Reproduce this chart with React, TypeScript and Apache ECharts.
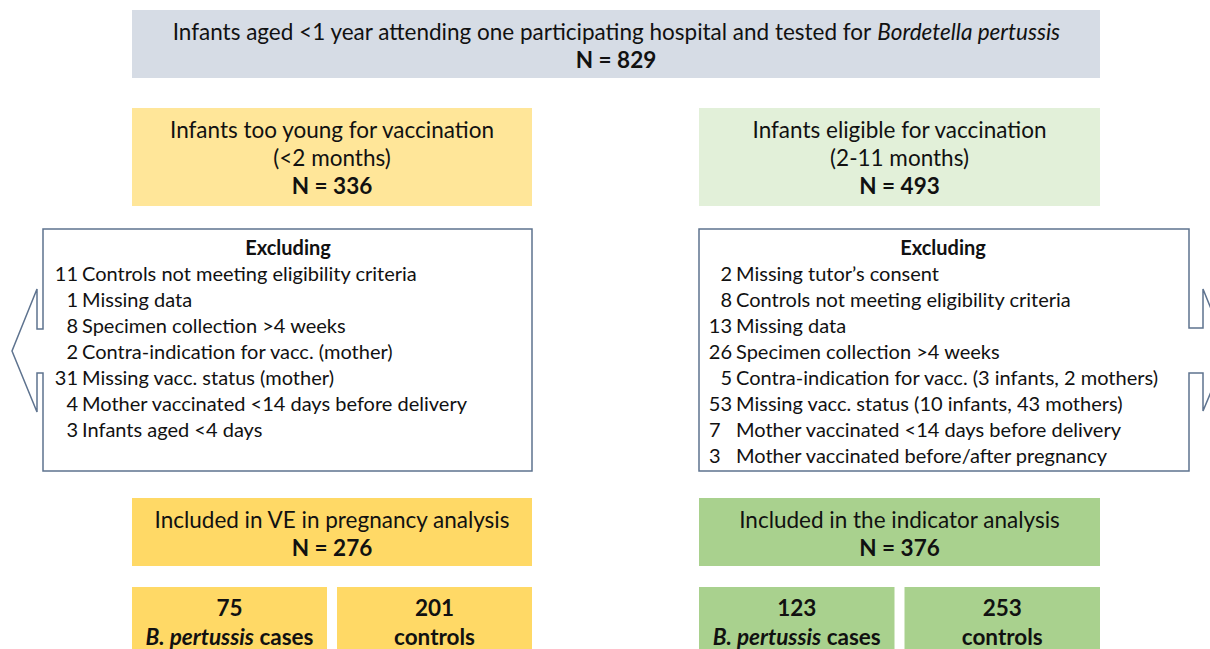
import React, { useEffect, useRef } from "react";
import * as echarts from "echarts";

// ---- data ----
const topTitle = "Infants aged <1 year attending one participating hospital and tested for ";
const topItalic = "Bordetella pertussis";
const totalN = 829;

const groupTitles = ["Infants too young for vaccination", "Infants eligible for vaccination"];
const groupRanges = ["(<2 months)", "(2-11 months)"];
const groupN = [336, 493];

const exclHeader = "Excluding";
const leftExclCounts = [11, 1, 8, 2, 31, 4, 3];
const leftExclLabels = [
  "Controls not meeting eligibility criteria",
  "Missing data",
  "Specimen collection >4 weeks",
  "Contra-indication for vacc. (mother)",
  "Missing vacc. status (mother)",
  "Mother vaccinated <14 days before delivery",
  "Infants aged <4 days",
];
const rightExclCounts = [2, 8, 13, 26, 5, 53, 7, 3];
const rightExclLabels = [
  "Missing tutor\u2019s consent",
  "Controls not meeting eligibility criteria",
  "Missing data",
  "Specimen collection >4 weeks",
  "Contra-indication for vacc. (3 infants, 2 mothers)",
  "Missing vacc. status (10 infants, 43 mothers)",
  "Mother vaccinated <14 days before delivery",
  "Mother vaccinated before/after pregnancy",
];

const analysisTitles = ["Included in VE in pregnancy analysis", "Included in the indicator analysis"];
const analysisN = [276, 376];
const casesN = [75, 123];
const controlsN = [201, 253];
const casesItalic = "B. pertussis";
const casesWord = " cases";
const controlsWord = "controls";

// ---- layout / style ----
const FONT = "Lato, 'Open Sans', sans-serif";
const FS = 22.5;
const FS_SMALL = 20;
const INK = "#111111";
const BORDER = "#5E738F";
const C_TOP = "#D6DCE5";
const C_Y1 = "#FFE699";
const C_G1 = "#E2F0D9";
const C_Y2 = "#FFD966";
const C_G2 = "#A9D18E";

function txt(x: number, y: number, text: string, opts: any = {}) {
  return {
    type: "text",
    x,
    y,
    silent: true,
    style: {
      text,
      fill: INK,
      fontFamily: FONT,
      fontSize: opts.size ?? FS,
      fontWeight: opts.bold ? "bold" : "normal",
      fontStyle: opts.italic ? "italic" : "normal",
      align: opts.align ?? "center",
      verticalAlign: "middle",
    },
  };
}

function rect(x: number, y: number, w: number, h: number, fill: string) {
  return { type: "rect", shape: { x, y, width: w, height: h }, style: { fill }, silent: true };
}

function buildGraphics() {
  const els: any[] = [];
  // top box
  els.push(rect(132, 10, 968, 68, C_TOP));
  els.push({
    type: "text",
    x: 616,
    y: 31,
    silent: true,
    style: {
      text: `{n|${topTitle}}{i|${topItalic}}`,
      align: "center",
      verticalAlign: "middle",
      rich: {
        n: { fontFamily: FONT, fontSize: FS, fill: INK },
        i: { fontFamily: FONT, fontSize: FS, fontStyle: "italic", fill: INK },
      },
    },
  });
  els.push(txt(616, 59, `N = ${totalN}`, { bold: true }));

  const cols = [
    { x0: 132, x1: 532, c1: C_Y1, c2: C_Y2 },
    { x0: 699, x1: 1100, c1: C_G1, c2: C_G2 },
  ];

  cols.forEach((c, i) => {
    const cx = (c.x0 + c.x1) / 2;
    els.push(rect(c.x0, 108, c.x1 - c.x0, 98, c.c1));
    els.push(txt(cx, 129, groupTitles[i]));
    els.push(txt(cx, 157, groupRanges[i]));
    els.push(txt(cx, 185, `N = ${groupN[i]}`, { bold: true }));

    els.push(rect(c.x0, 498, c.x1 - c.x0, 68, c.c2));
    els.push(txt(cx, 519, analysisTitles[i]));
    els.push(txt(cx, 547, `N = ${analysisN[i]}`, { bold: true }));

    const lw = cx - 5 - c.x0;
    const rx0 = cx + 5;
    els.push(rect(c.x0, 587, lw, 70, c.c2));
    els.push(rect(rx0, 587, c.x1 - rx0, 70, c.c2));
    const lcx = c.x0 + lw / 2;
    const rcx = rx0 + (c.x1 - rx0) / 2;
    els.push(txt(lcx, 607, String(casesN[i]), { bold: true }));
    els.push({
      type: "text",
      x: lcx,
      y: 636,
      silent: true,
      style: {
        text: `{i|${casesItalic}}{n|${casesWord}}`,
        align: "center",
        verticalAlign: "middle",
        rich: {
          n: { fontFamily: FONT, fontSize: FS, fontWeight: "bold", fill: INK },
          i: { fontFamily: FONT, fontSize: FS, fontWeight: "bold", fontStyle: "italic", fill: INK },
        },
      },
    });
    els.push(txt(rcx, 607, String(controlsN[i]), { bold: true }));
    els.push(txt(rcx, 636, controlsWord, { bold: true }));
  });

  // left exclusion callout (arrow pointing left)
  els.push({
    type: "polygon",
    silent: true,
    shape: {
      points: [
        [43, 229], [532, 229], [532, 471], [43, 471], [43, 373], [37, 373],
        [37, 412], [12, 351], [37, 289], [37, 329], [43, 329],
      ],
    },
    style: { fill: "#fff", stroke: BORDER, lineWidth: 1.5 },
  });
  // right exclusion callout (arrow pointing right, cut at page edge)
  els.push({
    type: "polygon",
    silent: true,
    shape: {
      points: [
        [699, 229], [1189, 229], [1189, 328], [1203, 328], [1203, 289], [1228, 351],
        [1203, 411], [1203, 373], [1189, 373], [1189, 471], [699, 471],
      ],
    },
    style: { fill: "#fff", stroke: BORDER, lineWidth: 1.5 },
  });

  const excl = [
    { cx: 288, numR: 78, labX: 82, numL: 55, counts: leftExclCounts, labels: leftExclLabels, leftNums: [] as number[] },
    { cx: 943, numR: 732, labX: 736, numL: 709, counts: rightExclCounts, labels: rightExclLabels, leftNums: [6, 7] },
  ];
  excl.forEach((e) => {
    els.push(txt(e.cx, 247, exclHeader, { bold: true, size: FS_SMALL }));
    e.counts.forEach((n, k) => {
      const y = 273 + k * 26;
      if (e.leftNums.includes(k)) {
        els.push(txt(e.numL, y, String(n), { size: FS_SMALL, align: "left" }));
      } else {
        els.push(txt(e.numR, y, String(n), { size: FS_SMALL, align: "right" }));
      }
      els.push(txt(e.labX, y, e.labels[k], { size: FS_SMALL, align: "left" }));
    });
  });

  return els;
}

export default function App() {
  const ref = useRef<HTMLDivElement>(null);
  useEffect(() => {
    document.body.style.margin = "0";
    const chart = echarts.init(ref.current!, undefined, { renderer: "svg" });
    chart.setOption({
      animation: false,
      backgroundColor: "#ffffff",
      graphic: { elements: buildGraphics() },
    });
    return () => chart.dispose();
  }, []);
  return <div ref={ref} style={{ position: "absolute", left: 0, top: 0, width: 1210, height: 649 }} />;
}
